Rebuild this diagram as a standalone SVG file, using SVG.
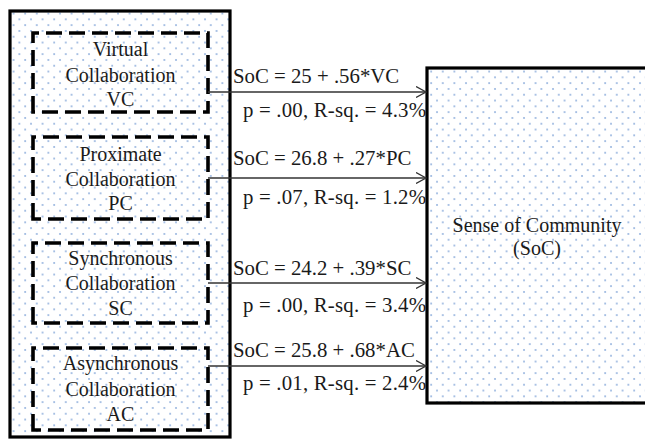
<svg xmlns="http://www.w3.org/2000/svg" width="645" height="439" viewBox="0 0 645 439">
<defs>
<pattern id="dots" width="11.6" height="11.6" patternUnits="userSpaceOnUse">
<circle cx="2" cy="2" r="1" fill="#8eaedc"/>
<circle cx="7.8" cy="7.8" r="1" fill="#8eaedc"/>
</pattern>
<marker id="arr" markerWidth="12" markerHeight="12" refX="10" refY="6" orient="auto" markerUnits="userSpaceOnUse">
<path d="M0,0.5 L10,6 L0,11.5" fill="none" stroke="#333" stroke-width="1.3"/>
</marker>
</defs>
<style>
text{font-family:"Liberation Serif","Times New Roman",serif;fill:#1a1a1a}
.n{font-size:20px;text-anchor:middle}
.e{font-size:20.8px}
.dash{fill:none;stroke:#000;stroke-width:3.6;stroke-dasharray:16 7}
.big{fill:url(#dots);stroke:#000;stroke-width:3.2}
.conn{stroke:#333;stroke-width:1.3;fill:none}
</style>
<rect width="645" height="439" fill="#fff"/>
<g id="group-left">
<rect class="big" x="10" y="11" width="220" height="426"/>
</g>
<g id="soc">
<rect class="big" x="427" y="68" width="230" height="335"/>
<text class="n" x="537" y="232">Sense of Community</text>
<text class="n" x="537" y="255">(SoC)</text>
</g>
<g id="vc">
<path class="dash" d="M33,112 V33 H208 V112 Z"/>
<text class="n" x="120.5" y="56">Virtual</text>
<text class="n" x="120.5" y="82">Collaboration</text>
<text class="n" x="120.5" y="106">VC</text>
</g>
<g id="pc">
<path class="dash" d="M33,219 V137 H208 V219 Z"/>
<text class="n" x="120.5" y="161">Proximate</text>
<text class="n" x="120.5" y="186">Collaboration</text>
<text class="n" x="120.5" y="210">PC</text>
</g>
<g id="sc">
<path class="dash" d="M33,323 V243 H208 V323 Z"/>
<text class="n" x="120.5" y="265">Synchronous</text>
<text class="n" x="120.5" y="290">Collaboration</text>
<text class="n" x="120.5" y="315">SC</text>
</g>
<g id="ac">
<path class="dash" d="M33,430 V348 H208 V430 Z"/>
<text class="n" x="120.5" y="370">Asynchronous</text>
<text class="n" x="120.5" y="396">Collaboration</text>
<text class="n" x="120.5" y="421">AC</text>
</g>
<g id="connectors">
<line class="conn" x1="208" y1="92" x2="426" y2="92" marker-end="url(#arr)"/>
<line class="conn" x1="208" y1="178" x2="426" y2="178" marker-end="url(#arr)"/>
<line class="conn" x1="208" y1="283" x2="426" y2="283" marker-end="url(#arr)"/>
<line class="conn" x1="208" y1="366" x2="426" y2="366" marker-end="url(#arr)"/>
<text class="e" x="233" y="83">SoC = 25 + .56*VC</text>
<text class="e" x="243" y="117" textLength="183">p = .00, R-sq. = 4.3%</text>
<text class="e" x="233" y="165">SoC = 26.8 + .27*PC</text>
<text class="e" x="243" y="204" textLength="183">p = .07, R-sq. = 1.2%</text>
<text class="e" x="233" y="275">SoC = 24.2 + .39*SC</text>
<text class="e" x="243" y="312" textLength="183">p = .00, R-sq. = 3.4%</text>
<text class="e" x="233" y="357">SoC = 25.8 + .68*AC</text>
<text class="e" x="243" y="390" textLength="183">p = .01, R-sq. = 2.4%</text>
</g>
</svg>
